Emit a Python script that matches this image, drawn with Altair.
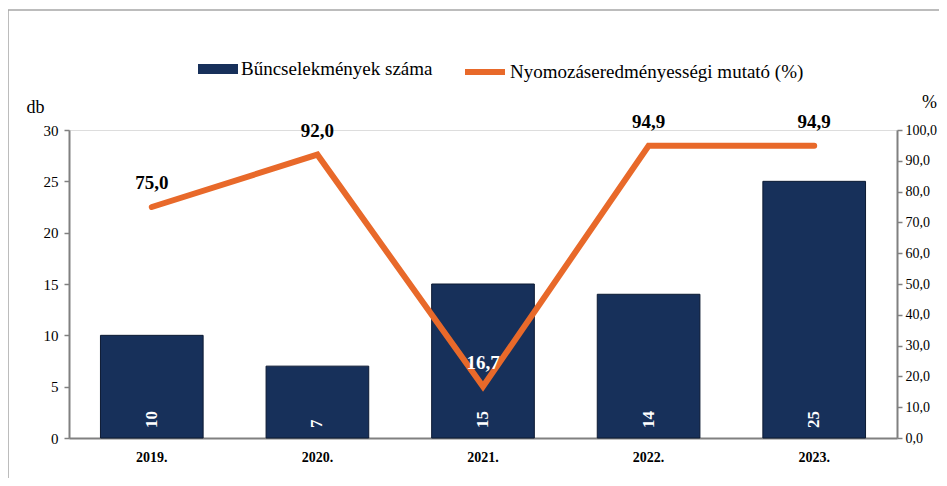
import altair as alt
import pandas as pd

years = ["2019.", "2020.", "2021.", "2022.", "2023."]
counts = [10, 7, 15, 14, 25]
pcts = [75.0, 92.0, 16.7, 94.9, 94.9]
bar_series = "Bűncselekmények száma"
line_series = "Nyomozáseredményességi mutató (%)"

df = pd.DataFrame({"year": years, "count": counts, "pct": pcts})
df["count_lbl"] = df["count"].astype(str)
df["pct_lbl"] = df["pct"].map(lambda v: f"{v:.1f}".replace(".", ","))
df["bs"] = bar_series
df["ls"] = line_series

FONT = "Liberation Serif"
NAVY = "#17305A"
ORANGE = "#E8692A"
GREY = "#808080"

x_enc = alt.X("year:N", sort=years, title=None,
              scale=alt.Scale(paddingInner=0.38, paddingOuter=0.19),
              axis=alt.Axis(labelFontWeight="bold", labelFontSize=14,
                            labelColor="#000", labelAngle=0, labelPadding=12,
                            ticks=False, domainColor=GREY, domainWidth=2))

left_axis = alt.Axis(values=[0, 5, 10, 15, 20, 25, 30], grid=False,
                     labelFontSize=15, labelColor="#000",
                     labelPadding=6, tickSize=5, tickColor=GREY, tickWidth=1.5,
                     domainColor=GREY, domainWidth=2, labelOverlap=False,
                     titleFontSize=18, titleFontWeight="normal",
                     titleColor="#000", titleAngle=0, titleAlign="center",
                     titleBaseline="middle", titleX=-34, titleY=-23)

right_axis = alt.Axis(orient="right", values=[0, 10, 20, 30, 40, 50, 60, 70, 80, 90, 100],
                      grid=False,
                      labelExpr="replace(format(datum.value, '.1f'), '.', ',')",
                      labelFontSize=14, labelColor="#000",
                      labelPadding=3, tickSize=5, tickColor=GREY, tickWidth=1.5,
                      domainColor=GREY, domainWidth=2, labelOverlap=False,
                      titleFontSize=18, titleFontWeight="normal",
                      titleColor="#000", titleAngle=0, titleAlign="center",
                      titleBaseline="middle", titleX=32, titleY=-28)

left_y = alt.Y("count:Q", title="db", scale=alt.Scale(domain=[0, 30]), axis=left_axis)
right_y = alt.Y("pct:Q", title="%", scale=alt.Scale(domain=[0, 100]), axis=right_axis)

base = alt.Chart(df)

border = alt.Chart(pd.DataFrame({"a": [0]})).mark_rect(
    fill=None, stroke="#A6A6A6", strokeWidth=1.5, clip=False
).encode(x=alt.value(-61), x2=alt.value(1000), y=alt.value(-120), y2=alt.value(600))

bars = base.mark_bar(stroke="#0C1A33", strokeWidth=1).encode(
    x=x_enc,
    y=left_y,
    color=alt.Color("bs:N", title=None,
                    scale=alt.Scale(domain=[bar_series], range=[NAVY]),
                    legend=alt.Legend(orient="none", legendX=129, legendY=-81,
                                      symbolType="M-1,-0.25L1,-0.25L1,0.25L-1,0.25Z",
                                      symbolSize=1600, symbolStrokeWidth=0,
                                      labelFontSize=19, labelColor="#000",
                                      labelOffset=3, labelLimit=0, padding=0)),
)

bar_labels = base.mark_text(angle=270, align="left", baseline="middle", dx=10,
                            fontSize=17, fontWeight="bold", color="white").encode(
    x=alt.X("year:N", sort=years),
    y=alt.datum(0),
    text="count_lbl:N",
)

left = alt.layer(border, bars, bar_labels)

line = base.mark_line(strokeWidth=6, strokeCap="round", strokeJoin="miter").encode(
    x=alt.X("year:N", sort=years),
    y=right_y,
    stroke=alt.Stroke("ls:N", title=None,
                      scale=alt.Scale(domain=[line_series], range=[ORANGE]),
                      legend=alt.Legend(orient="none", legendX=393, legendY=-81,
                                        symbolType="stroke", symbolSize=1600,
                                        symbolStrokeWidth=6,
                                        labelFontSize=19, labelColor="#000",
                                        labelOffset=2, labelLimit=0, padding=0)),
)

line_labels = base.mark_text(dy=-24, fontSize=19, fontWeight="bold").encode(
    x=alt.X("year:N", sort=years),
    y=right_y,
    text="pct_lbl:N",
    color=alt.condition("datum.pct < 30", alt.value("white"), alt.value("black")),
)

right = alt.layer(line, line_labels)

chart = alt.layer(left, right).resolve_scale(y="independent", color="independent").properties(
    width=828, height=308,
    autosize=alt.AutoSizeParams(type="none"),
    padding={"left": 61, "top": 122, "right": 42, "bottom": 40},
).configure_view(stroke=None).configure(
    background="white", font=FONT
).configure_axis(labelFont=FONT, titleFont=FONT).configure_legend(
    labelFont=FONT
).configure_text(font=FONT)

chart.save("out.html", embed_options={"renderer": "svg", "actions": False})
